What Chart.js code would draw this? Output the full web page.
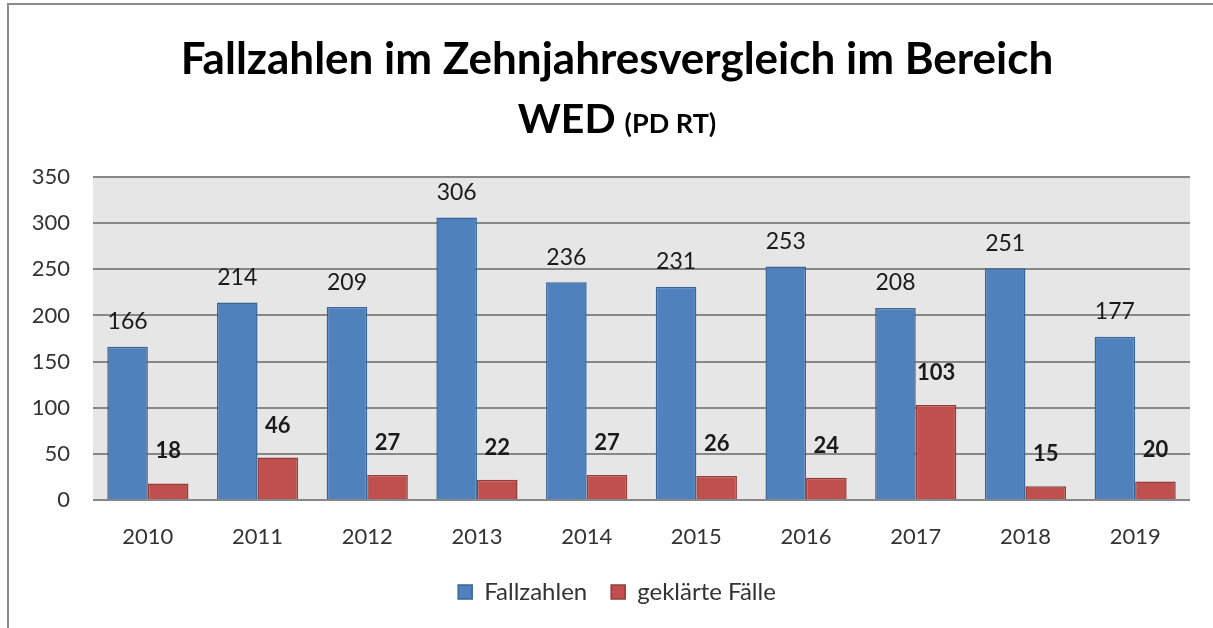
<!DOCTYPE html>
<html>
<head>
<meta charset="utf-8">
<script src="https://cdn.jsdelivr.net/npm/chart.js@4/dist/chart.umd.min.js"></script>
<style>
  html, body { margin: 0; padding: 0; background: #fff; }
  #wrap { width: 1213px; height: 628px; }
</style>
</head>
<body>
<div id="wrap"><canvas id="fallChart"></canvas></div>
<script>
const years = ['2010', '2011', '2012', '2013', '2014', '2015', '2016', '2017', '2018', '2019'];
const fallzahlen = [166, 214, 209, 306, 236, 231, 253, 208, 251, 177];
const geklaert = [18, 46, 27, 22, 27, 26, 24, 103, 15, 20];
const yTicks = [0, 50, 100, 150, 200, 250, 300, 350];

const titleLine1 = 'Fallzahlen im Zehnjahresvergleich im Bereich';
const titleMain = 'WED';
const titleSmall = '(PD RT)';

const FONT = 'Lato, "Open Sans", sans-serif';
const CENTER_X = 617; // title and legend are centred on the frame, not the canvas

// frame, plot background and the two-size title
const framePlugin = {
  id: 'frame',
  beforeDraw(chart) {
    const { ctx, chartArea, legend } = chart;
    // move the legend so it is centred like the title
    if (legend) {
      const shift = CENTER_X - (legend.left + legend.right) / 2;
      legend.left += shift;
      legend.right += shift;
    }
    ctx.save();
    ctx.strokeStyle = '#8a8a8a';
    ctx.lineWidth = 2;
    ctx.strokeRect(8, 4, 1230, 640);
    ctx.fillStyle = '#e6e6e6';
    ctx.fillRect(chartArea.left, chartArea.top, chartArea.right - chartArea.left, chartArea.bottom - chartArea.top);
    ctx.restore();
  },
  afterDraw(chart) {
    const ctx = chart.ctx;
    ctx.save();
    ctx.fillStyle = '#000';
    ctx.textBaseline = 'alphabetic';
    ctx.textAlign = 'center';
    ctx.font = 'bold 44px ' + FONT;
    ctx.fillText(titleLine1, CENTER_X, 74);

    ctx.textAlign = 'left';
    const bigFont = 'bold 41px ' + FONT;
    const smallFont = 'bold 27px ' + FONT;
    ctx.font = bigFont;
    const w1 = ctx.measureText(titleMain).width + 9;
    ctx.font = smallFont;
    const w2 = ctx.measureText(titleSmall).width;
    const x0 = CENTER_X - (w1 + w2) / 2;
    ctx.font = bigFont;
    ctx.fillText(titleMain, x0, 133);
    ctx.font = smallFont;
    ctx.fillText(titleSmall, x0 + w1, 133);
    ctx.restore();
  }
};

// value labels above the bars
const valueLabels = {
  id: 'valueLabels',
  afterDatasetsDraw(chart) {
    const ctx = chart.ctx;
    ctx.save();
    ctx.textAlign = 'center';
    ctx.textBaseline = 'middle';
    ctx.fillStyle = '#1a1a1a';
    chart.data.datasets.forEach((ds, i) => {
      const meta = chart.getDatasetMeta(i);
      ctx.font = (i === 1 ? 'bold 22px ' : '23px ') + FONT;
      meta.data.forEach((bar, j) => {
        ctx.fillText(String(ds.data[j]), bar.x, bar.y - (i === 1 ? 32 : 25));
      });
    });
    ctx.restore();
  }
};

const ctx = document.getElementById('fallChart').getContext('2d');
new Chart(ctx, {
  type: 'bar',
  data: {
    labels: years,
    datasets: [{
      label: 'Fallzahlen',
      data: fallzahlen,
      backgroundColor: '#4f81bd',
      borderColor: '#3a6497',
      borderWidth: 1.5,
      borderSkipped: 'bottom'
    }, {
      label: 'geklärte Fälle',
      data: geklaert,
      backgroundColor: '#c0504d',
      borderColor: '#943c3a',
      borderWidth: 1.5,
      borderSkipped: 'bottom'
    }]
  },
  options: {
    responsive: true,
    maintainAspectRatio: false,
    animation: false,
    layout: {
      padding: { top: 177, right: 23, bottom: 14, left: 0 }
    },
    datasets: {
      bar: { categoryPercentage: 0.74, barPercentage: 1.0 }
    },
    scales: {
      x: {
        grid: { display: false },
        border: { display: false },
        ticks: {
          color: '#333',
          font: { family: FONT, size: 22 },
          padding: 16
        },
        afterFit(scale) { scale.height = 56; }
      },
      y: {
        min: 0,
        max: 350,
        afterBuildTicks(scale) { scale.ticks = yTicks.map(v => ({ value: v })); },
        grid: {
          color: '#878787',
          lineWidth: 2,
          drawTicks: false
        },
        border: { display: false },
        ticks: {
          color: '#333',
          font: { family: FONT, size: 22 },
          padding: 23
        },
        afterFit(scale) { scale.width = 93; }
      }
    },
    plugins: {
      title: { display: false },
      tooltip: { enabled: false },
      legend: {
        position: 'bottom',
        labels: {
          color: '#333',
          font: { family: FONT, size: 24 },
          boxWidth: 14,
          boxHeight: 14,
          padding: 24
        }
      }
    }
  },
  plugins: [framePlugin, valueLabels]
});
</script>
</body>
</html>
